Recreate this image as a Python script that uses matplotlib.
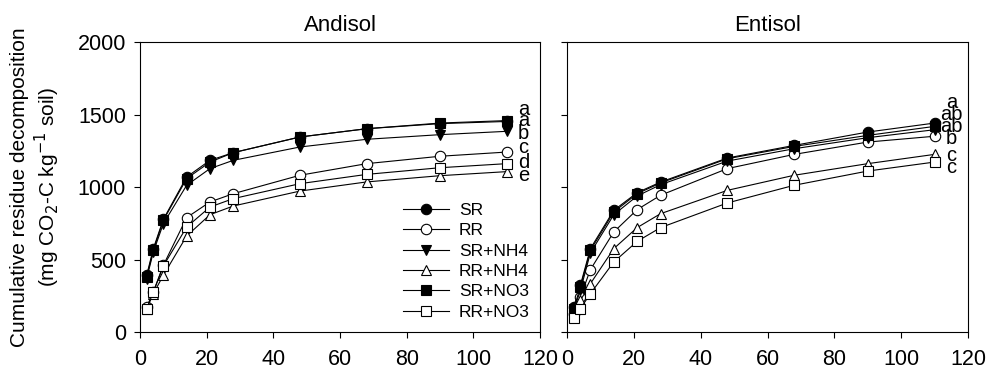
import matplotlib
matplotlib.use("Agg")
import matplotlib.pyplot as plt

plt.rcParams['font.family'] = ['Liberation Sans', 'DejaVu Sans']

days = [2, 4, 7, 14, 21, 28, 48, 68, 90, 110]
series_names = ["SR", "RR", "SR+NH4", "RR+NH4", "SR+NO3", "RR+NO3"]

andisol = {
    "SR":     [391, 575, 777, 1069, 1184, 1237, 1345, 1402, 1437, 1452],
    "RR":     [172, 276, 460, 789, 897, 954, 1081, 1161, 1212, 1241],
    "SR+NH4": [368, 552, 747, 1012, 1127, 1184, 1276, 1329, 1361, 1384],
    "RR+NH4": [161, 264, 391, 662, 809, 869, 972, 1035, 1078, 1106],
    "SR+NO3": [380, 565, 770, 1058, 1172, 1237, 1345, 1402, 1441, 1458],
    "RR+NO3": [161, 276, 455, 724, 862, 920, 1023, 1087, 1133, 1161],
}
entisol = {
    "SR":     [172, 322, 575, 839, 961, 1034, 1200, 1287, 1379, 1441],
    "RR":     [126, 241, 430, 690, 844, 943, 1127, 1225, 1310, 1350],
    "SR+NH4": [149, 287, 545, 809, 938, 1016, 1179, 1264, 1340, 1395],
    "RR+NH4": [115, 218, 333, 575, 720, 816, 977, 1081, 1161, 1225],
    "SR+NO3": [160, 310, 563, 828, 954, 1028, 1195, 1280, 1356, 1418],
    "RR+NO3": [99, 161, 264, 483, 625, 720, 890, 1012, 1110, 1172],
}
andisol_letters = ["a", "a", "b", "c", "d", "e"]
andisol_letter_y = [1536, 1460, 1372, 1271, 1166, 1076]
entisol_letters = ["a", "ab", "ab", "b", "c", "c"]
entisol_letter_y = [1586, 1501, 1414, 1333, 1218, 1133]

styles = {
    "SR":     dict(marker="o", mfc="black"),
    "RR":     dict(marker="o", mfc="white"),
    "SR+NH4": dict(marker="v", mfc="black"),
    "RR+NH4": dict(marker="^", mfc="white"),
    "SR+NO3": dict(marker="s", mfc="black"),
    "RR+NO3": dict(marker="s", mfc="white"),
}
msizes = {"o": 7.5, "v": 7.5, "^": 7.5, "s": 6.8}

fig = plt.figure(figsize=(9.89, 3.71), dpi=100)
ax1 = fig.add_axes([140/989, 1-332/371, 400/989, 290/371])
ax2 = fig.add_axes([567/989, 1-332/371, 401/989, 290/371])

def draw(ax, data, letters, letter_y, title):
    handles = []
    for name in series_names:
        st = styles[name]
        h, = ax.plot(days, data[name], color="black", lw=0.8,
                     marker=st["marker"], mfc=st["mfc"], mec="black",
                     mew=0.8, ms=msizes[st["marker"]], label=name)
        handles.append(h)
    for t, y in zip(letters, letter_y):
        ax.text(115, y, t, ha="center", va="center", fontsize=14.5)
    ax.set_xlim(0, 120)
    ax.set_ylim(0, 2000)
    ax.set_xticks(range(0, 121, 20))
    ax.set_yticks(range(0, 2001, 500))
    ax.tick_params(direction="out", length=4, width=0.8, labelsize=15.5)
    ax.tick_params(axis="x", pad=8)
    ax.tick_params(axis="y", pad=6)
    for s in ax.spines.values():
        s.set_linewidth(0.8)
    ax.set_title(title, fontsize=16, pad=8)
    return handles

handles = draw(ax1, andisol, andisol_letters, andisol_letter_y, "Andisol")
draw(ax2, entisol, entisol_letters, entisol_letter_y, "Entisol")
ax2.tick_params(labelleft=False)

ax1.set_ylabel("Cumulative residue decomposition\n(mg CO$_2$-C kg$^{-1}$ soil)",
               fontsize=15, linespacing=1.15, va="center")
ax1.yaxis.set_label_coords(-0.26, 0.5)

ax1.legend(handles=handles, loc="lower right", bbox_to_anchor=(1.005, 0.0),
           frameon=False, fontsize=12.5, handlelength=2.6, handletextpad=0.6,
           labelspacing=0.3, borderaxespad=0.3)

fig.savefig("out.png", dpi=100)
